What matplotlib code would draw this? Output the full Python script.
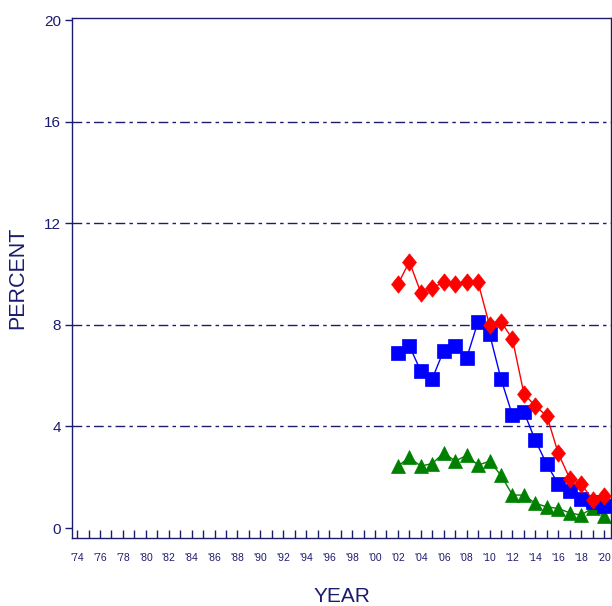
import matplotlib
matplotlib.use("Agg")
import matplotlib.pyplot as plt
from matplotlib.ticker import MultipleLocator, FixedLocator

years = list(range(2002, 2021))
red_vals = [9.59, 10.49, 9.27, 9.47, 9.67, 9.59, 9.67, 9.67, 7.98, 8.13, 7.44,
            5.29, 4.80, 4.42, 2.94, 1.95, 1.73, 1.12, 1.26]
blue_vals = [6.89, 7.18, 6.18, 5.88, 6.99, 7.18, 6.69, 8.13, 7.65, 5.87, 4.44,
             4.57, 3.45, 2.51, 1.73, 1.45, 1.15, 1.03, 0.88]
green_vals = [2.44, 2.78, 2.44, 2.54, 2.96, 2.64, 2.86, 2.48, 2.63, 2.08, 1.30,
              1.30, 0.97, 0.84, 0.77, 0.60, 0.51, 0.80, 0.48]

xtick_years = list(range(1974, 2021, 2))
xtick_labels = ["'%02d" % (y % 100) for y in xtick_years]
ytick_vals = [0, 4, 8, 12, 16, 20]
grid_vals = [4, 8, 12, 16]

navy = "#1c1c6e"
plt.rcParams['font.family'] = ['Liberation Sans', 'DejaVu Sans']

fig = plt.figure(figsize=(6.12, 6.06), dpi=100)
ax = fig.add_axes([72/612, (606-538)/606, (611-72)/612, (538-18)/606])

diamond = [(0, 1), (0.8, 0), (0, -1), (-0.8, 0), (0, 1)]

for v in grid_vals:
    ax.axhline(v, color=navy, lw=1.0, dashes=(7, 3, 2.5, 3), zorder=1)

ax.plot(years, green_vals, color='#008000', lw=1.0, marker='^', ms=10.5,
        mfc='#008000', mec='#008000', mew=0.5, zorder=2)
ax.plot(years, blue_vals, color='#0000ff', lw=1.0, marker='s', ms=9.5,
        mfc='#0000ff', mec='#0000ff', mew=0.5, zorder=3)
ax.plot(years, red_vals, color='#ff0000', lw=1.0, marker=diamond, ms=12.5,
        mfc='#ff0000', mec='#ff0000', mew=0.5, zorder=4)

ax.set_xlim(1973.56, 2020.6)
ax.set_ylim(-0.39, 20.08)

ax.xaxis.set_major_locator(FixedLocator(xtick_years))
ax.set_xticklabels(xtick_labels)
ax.xaxis.set_minor_locator(MultipleLocator(1))
ax.tick_params(axis='x', which='both', direction='in', length=6, width=1,
               color=navy, labelsize=7.5, labelcolor=navy, pad=11)
ax.set_yticks(ytick_vals)
ax.tick_params(axis='y', which='major', direction='out', length=5, width=1,
               color=navy, labelsize=11, labelcolor=navy, pad=3)

for s in ax.spines.values():
    s.set_color(navy)
    s.set_linewidth(1.0)

ax.set_ylabel('PERCENT', fontsize=15.5, color=navy, labelpad=11)
ax.set_xlabel('YEAR', fontsize=15, color=navy, labelpad=17)

fig.savefig('out.png', dpi=100)
